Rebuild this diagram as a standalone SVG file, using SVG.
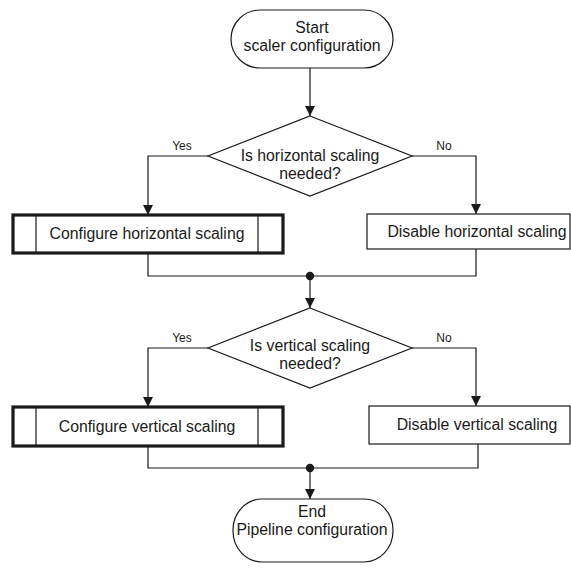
<svg xmlns="http://www.w3.org/2000/svg" width="571" height="569" viewBox="0 0 571 569">
<style>
.t{font-family:"Liberation Sans",Arial,sans-serif;font-size:15.8px;fill:#1a1a1a;text-anchor:middle}
.l{font-family:"Liberation Sans",Arial,sans-serif;font-size:12px;fill:#1a1a1a;text-anchor:middle}
.s{fill:#fff;stroke:#1a1a1a;stroke-width:1.2}
.b{fill:#fff;stroke:#1a1a1a;stroke-width:3.2}
.c{fill:none;stroke:#1a1a1a;stroke-width:1.2}
</style>
<defs>
<marker id="ah" markerWidth="10" markerHeight="12" refX="10" refY="5" orient="auto" markerUnits="userSpaceOnUse">
<path d="M0,0 L10,5 L0,10 Z" fill="#1a1a1a"/>
</marker>
</defs>
<g id="connectors">
<path class="c" d="M310,68 V116" marker-end="url(#ah)"/>
<path class="c" d="M208,156 H148 V215" marker-end="url(#ah)"/>
<path class="c" d="M412,156 H476 V214" marker-end="url(#ah)"/>
<path class="c" d="M148,253 V276 H476 V249"/>
<circle cx="310" cy="276" r="4.2" fill="#1a1a1a"/>
<path class="c" d="M310,276 V308" marker-end="url(#ah)"/>
<path class="c" d="M208,348 H148 V407" marker-end="url(#ah)"/>
<path class="c" d="M412,348 H476 V406" marker-end="url(#ah)"/>
<path class="c" d="M148,446 V468 H478 V444"/>
<circle cx="310" cy="468" r="4.2" fill="#1a1a1a"/>
<path class="c" d="M310,468 V499" marker-end="url(#ah)"/>
<text class="l" x="182" y="150">Yes</text>
<text class="l" x="444" y="150">No</text>
<text class="l" x="182" y="342">Yes</text>
<text class="l" x="444" y="342">No</text>
</g>
<g id="start">
<rect class="s" x="231" y="10" width="162" height="58" rx="29" ry="29"/>
<text class="t" x="312" y="33">Start</text>
<text class="t" x="312" y="51">scaler configuration</text>
</g>
<g id="decision1">
<path class="s" d="M310,116 L412,156 L310,196 L208,156 Z"/>
<text class="t" x="310" y="160.5">Is horizontal scaling</text>
<text class="t" x="310" y="178.5">needed?</text>
</g>
<g id="configH">
<rect class="b" x="13" y="215" width="270" height="38"/>
<path class="c" d="M36,215 V253 M258,215 V253"/>
<text class="t" x="147" y="239">Configure horizontal scaling</text>
</g>
<g id="disableH">
<rect class="s" x="367" y="214" width="203" height="35"/>
<text class="t" x="477" y="237">Disable horizontal scaling</text>
</g>
<g id="decision2">
<path class="s" d="M310,308 L412,348 L310,388 L208,348 Z"/>
<text class="t" x="310" y="351">Is vertical scaling</text>
<text class="t" x="310" y="369">needed?</text>
</g>
<g id="configV">
<rect class="b" x="13" y="407" width="270" height="39"/>
<path class="c" d="M36,407 V446 M258,407 V446"/>
<text class="t" x="147" y="432">Configure vertical scaling</text>
</g>
<g id="disableV">
<rect class="s" x="369" y="406" width="201" height="38"/>
<text class="t" x="477" y="430">Disable vertical scaling</text>
</g>
<g id="end">
<rect class="s" x="233" y="499" width="160" height="63" rx="29" ry="31"/>
<text class="t" x="312" y="517">End</text>
<text class="t" x="312" y="535">Pipeline configuration</text>
</g>
</svg>
